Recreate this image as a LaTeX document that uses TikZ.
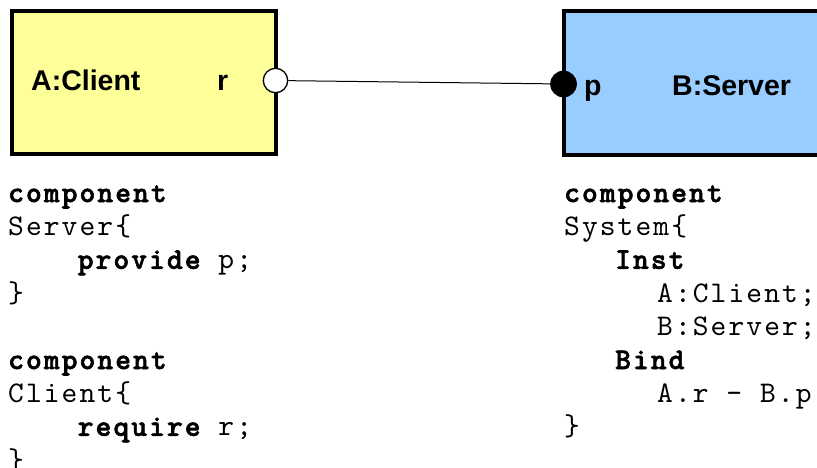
\documentclass[tikz,border=0pt]{standalone}
\usepackage{fontspec}
\setmainfont{Liberation Sans}
\newfontfamily\codefont{lmmono10-regular.otf}[BoldFont=lmmonolt10-bold.otf, BoldFeatures={FakeBold=2}, LetterSpace=7]
\definecolor{clientfill}{RGB}{255,255,153}
\definecolor{serverfill}{RGB}{153,204,255}

\begin{document}
\begin{tikzpicture}[x=1pt,y=-1pt,
  compbox/.style={draw=black, line width=3.3pt, rectangle, inner sep=0pt},
  portlabel/.style={font=\fontsize{28.5}{30}\selectfont\bfseries, anchor=base west, inner sep=0pt},
  codeline/.style={font=\fontsize{30}{33}\selectfont\codefont, anchor=base west, inner sep=0pt},
  reqport/.style={circle, draw=black, fill=white, line width=1.3pt, minimum size=24.4pt, inner sep=0pt},
  provport/.style={circle, fill=black, minimum size=26.7pt, inner sep=0pt},
  binding/.style={draw=black, line width=1pt}
]
\useasboundingbox (0,0) rectangle (817,467);
\clip (0,0) rectangle (817,467);

% component instances
\node[compbox, fill=clientfill, minimum width=264pt, minimum height=143pt] (client) at (144,82.5) {};
\node[compbox, fill=serverfill, minimum width=276pt, minimum height=144pt] (server) at (702,83) {};

\node[portlabel] (clientname) at (31,90) {A:Client};
\node[portlabel] (rname) at (217,90) {r};
\node[portlabel] (pname) at (584,95) {p};
\node[portlabel] (servername) at (672,95) {B:Server};

% ports and the binding between them
\node[reqport] (rport) at (275.5,80.5) {};
\node[provport] (pport) at (563.5,84) {};
\draw[binding] (rport) -- (pport);

% textual description, left column
\node[codeline] (la) at (8,202) {\bfseries component};
\node[codeline] (lb) at (8,235.4) {Server\{};
\node[codeline] (lc) at (77.6,268.8) {\bfseries provide\mdseries\ p;};
\node[codeline] (ld) at (8,302.2) {\}};
\node[codeline] (le) at (8,369) {\bfseries component};
\node[codeline] (lf) at (8,402.4) {Client\{};
\node[codeline] (lg) at (77.6,435.8) {\bfseries require\mdseries\ r;};
\node[codeline] (lh) at (8,469.2) {\}};

% textual description, right column
\node[codeline] (ra) at (564,202) {\bfseries component};
\node[codeline] (rb) at (564,235.4) {System\{};
\node[codeline] (rc) at (615,268.8) {\bfseries Inst};
\node[codeline] (rd) at (657,302.2) {A:Client;};
\node[codeline] (re) at (657,335.6) {B:Server;};
\node[codeline] (rf) at (615,369) {\bfseries Bind};
\node[codeline] (rg) at (657,402.4) {A.r – B.p};
\node[codeline] (rh) at (564,435.8) {\}};
\end{tikzpicture}
\end{document}
